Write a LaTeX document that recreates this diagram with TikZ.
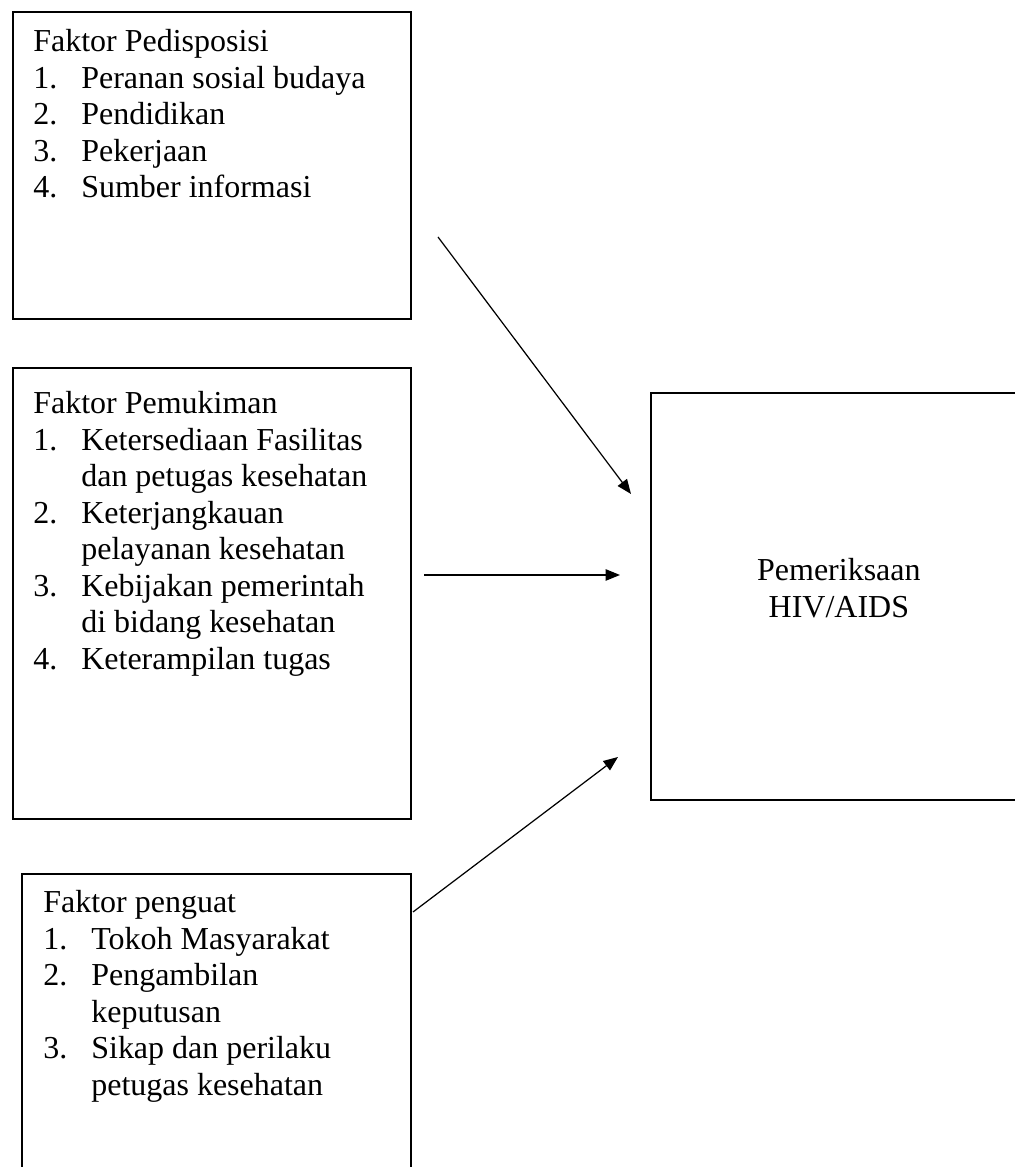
\documentclass[tikz,border=0pt]{standalone}
\usepackage{fontspec}
\setmainfont{Liberation Serif}
\usetikzlibrary{arrows.meta,calc,positioning}
\newcommand{\butir}[2]{\makebox[0.96cm][l]{#1}#2}
\newcommand{\lanjut}{\hspace*{0.96cm}}

\begin{document}
\begin{tikzpicture}[>={Triangle[length=2.9mm,width=2.3mm]},line join=miter,
  font=\fontsize{18.2}{20.8}\selectfont,text=black,
  kotak/.style={draw,line width=1pt,inner sep=0pt,anchor=north west},
  isi/.style={anchor=north west,inner sep=0pt,align=left},
  panah/.style={->,line width=.7pt}]
\path[use as bounding box] (0,0) rectangle (20.3,23.34);
\fill[white] (0,0) rectangle (20.3,23.34);
\begin{scope}
\clip (0,0) rectangle (20.3,23.34);
% kotak faktor
\node[kotak,minimum width=7.96cm,minimum height=6.14cm] (pred) at (0.24,23.12) {};
\node[kotak,minimum width=7.96cm,minimum height=9.02cm] (mukim) at (0.24,16.0) {};
\node[kotak,minimum width=7.78cm,minimum height=6.6cm] (kuat) at (0.42,5.88) {};
\node[kotak,minimum width=7.52cm,minimum height=8.14cm] (hiv) at (13.0,15.5) {};
\node[align=center] (hivtxt) at ($(hiv.center)+(0,0.16)$) {Pemeriksaan\\HIV/AIDS};
% isi kotak
\node[isi] (predtxt) at ($(pred.north west)+(0.42,-0.36)$)
  {Faktor Pedisposisi\\
   \butir{1.}{Peranan sosial budaya}\\
   \butir{2.}{Pendidikan}\\
   \butir{3.}{Pekerjaan}\\
   \butir{4.}{Sumber informasi}};
\node[isi] (mukimtxt) at ($(mukim.north west)+(0.42,-0.48)$)
  {Faktor Pemukiman\\
   \butir{1.}{Ketersediaan Fasilitas}\\
   \lanjut dan petugas kesehatan\\
   \butir{2.}{Keterjangkauan}\\
   \lanjut pelayanan kesehatan\\
   \butir{3.}{Kebijakan pemerintah}\\
   \lanjut di bidang kesehatan\\
   \butir{4.}{Keterampilan tugas}};
\node[isi] (kuattxt) at ($(kuat.north west)+(0.44,-0.34)$)
  {Faktor penguat\\
   \butir{1.}{Tokoh Masyarakat}\\
   \butir{2.}{Pengambilan}\\
   \lanjut keputusan\\
   \butir{3.}{Sikap dan perilaku}\\
   \lanjut petugas kesehatan};
% panah
\coordinate (a1) at (8.76,18.6);
\coordinate (b1) at (12.62,13.46);
\coordinate (a2) at (8.48,11.84);
\coordinate (b2) at (12.4,11.84);
\coordinate (a3) at (8.26,5.1);
\coordinate (b3) at (12.36,8.2);
\draw[panah] (a1) -- (b1);
\draw[panah] (a2) -- (b2);
\draw[panah] (a3) -- (b3);
\end{scope}
\end{tikzpicture}
\end{document}
